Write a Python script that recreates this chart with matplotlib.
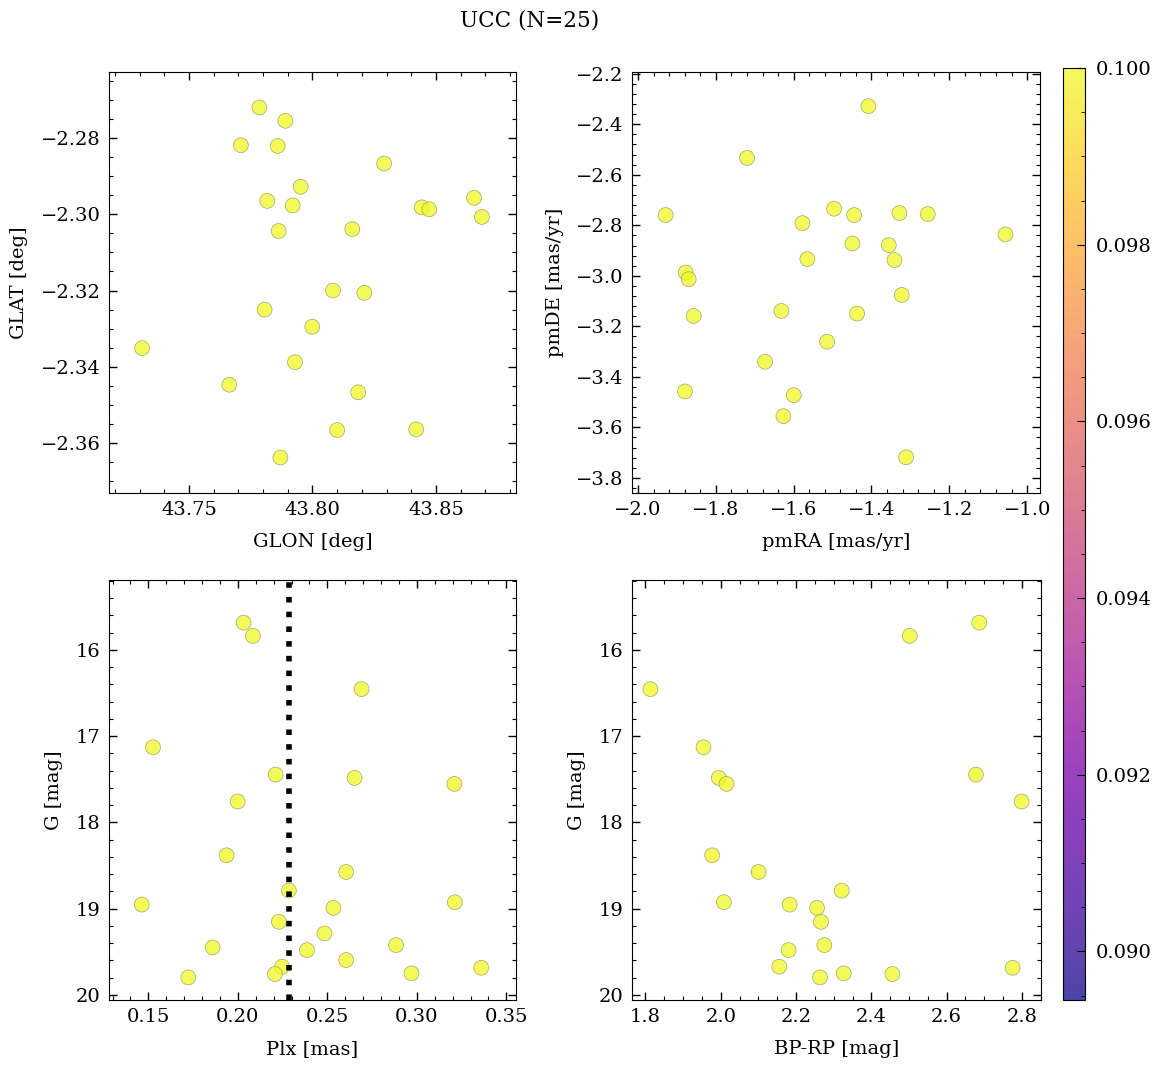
import numpy as np
import matplotlib
matplotlib.use('Agg')
import matplotlib.pyplot as plt
from matplotlib.ticker import AutoMinorLocator, FormatStrFormatter

plt.rcParams['font.family'] = ['DejaVu Serif']
plt.rcParams['font.size'] = 14
plt.rcParams['mathtext.fontset'] = 'dejavuserif'

# positions on the sky
glon = [43.7785, 43.789, 43.771, 43.7859, 43.829, 43.7952, 43.7817, 43.792, 43.8442,
        43.8473, 43.8654, 43.8686, 43.7863, 43.8161, 43.8083, 43.821, 43.7806, 43.7999,
        43.731, 43.7929, 43.7663, 43.8185, 43.81, 43.842, 43.787]
glat = [-2.2720, -2.2755, -2.2819, -2.2821, -2.2867, -2.2928, -2.2965, -2.2977, -2.2982,
        -2.2987, -2.2957, -2.3007, -2.3044, -2.3039, -2.3200, -2.3206, -2.3250, -2.3295,
        -2.3351, -2.3388, -2.3447, -2.3467, -2.3566, -2.3564, -2.3638]

# proper motions
pmra = [-1.4079, -1.7198, -1.9289, -1.4961, -1.4447, -1.3282, -1.2554, -1.5775, -1.0557,
        -1.449, -1.3556, -1.5647, -1.341, -1.8775, -1.8698, -1.3222, -1.8569, -1.6315,
        -1.437, -1.5141, -1.6735, -1.8792, -1.5998, -1.6264, -1.311]
pmde = [-2.3283, -2.5333, -2.7595, -2.7344, -2.7595, -2.7516, -2.7556, -2.7913, -2.8362,
        -2.872, -2.8786, -2.9341, -2.9381, -2.987, -3.0135, -3.0757, -3.159, -3.1392,
        -3.1497, -3.2608, -3.3402, -3.4579, -3.4725, -3.5558, -3.7185]

# photometry + parallax
gmag = [15.684, 15.838, 16.455, 17.129, 17.445, 17.484, 17.553, 17.757, 18.381, 18.574,
        18.79, 18.925, 18.952, 18.99, 19.152, 19.287, 19.422, 19.449, 19.48, 19.595,
        19.672, 19.684, 19.749, 19.757, 19.796]
plx = [0.2032, 0.2084, 0.2691, 0.1526, 0.2211, 0.2652, 0.321, 0.1999, 0.1937, 0.2605,
       0.2285, 0.3212, 0.1463, 0.2534, 0.2229, 0.2484, 0.2884, 0.1859, 0.2386, 0.2605,
       0.2247, 0.336, 0.297, 0.2207, 0.1723]
bp_rp = [2.6865, 2.5021, 1.8133, 1.9543, 2.6777, 1.995, 2.0154, 2.7991, 1.9773, 2.1005,
         2.3213, 2.0083, 2.183, 2.2557, 2.2663, np.nan, 2.2752, np.nan, 2.1803, np.nan,
         2.1555, 2.7752, 2.3266, 2.456, 2.2636]

probs = [0.1] * 25
vmin, vmax = 0.08945, 0.1

fig = plt.figure(figsize=(11.6, 10.68), dpi=100)
W, H = 1160, 1068

def box(x0, y0, x1, y1):
    return [x0 / W, 1 - y1 / H, (x1 - x0) / W, (y1 - y0) / H]

ax1 = fig.add_axes(box(109, 72, 516, 493))
ax2 = fig.add_axes(box(632, 72, 1040, 493))
ax3 = fig.add_axes(box(109, 580, 516, 1000))
ax4 = fig.add_axes(box(632, 580, 1041, 1000))
cax = fig.add_axes(box(1063, 68, 1085, 1000))

kw = dict(c=probs, cmap='plasma', vmin=vmin, vmax=vmax, s=115, alpha=0.75,
          edgecolors='#8a8a5a', linewidths=0.5)

ax1.scatter(glon, glat, **kw)
ax1.set_xlabel('GLON [deg]', labelpad=10)
ax1.set_ylabel('GLAT [deg]', labelpad=9)
ax1.set_xlim(43.7176, 43.8824)
ax1.set_ylim(-2.3731, -2.2627)
ax1.set_xticks([43.75, 43.80, 43.85])

ax2.scatter(pmra, pmde, **kw)
ax2.set_xlabel('pmRA [mas/yr]', labelpad=10)
ax2.set_ylabel('pmDE [mas/yr]', labelpad=9)
ax2.set_xlim(-2.0154, -0.967)
ax2.set_ylim(-3.86, -2.193)

ax3.scatter(plx, gmag, **kw)
ax3.axvline(np.median(plx), color='k', ls=':', lw=4)
ax3.set_xlabel('Plx [mas]', labelpad=10)
ax3.set_ylabel('G [mag]', labelpad=9)
ax3.set_xlim(0.128, 0.3554)
ax3.set_ylim(20.058, 15.19)

sc = ax4.scatter(bp_rp, gmag, **kw)
ax4.set_xlabel('BP-RP [mag]', labelpad=10)
ax4.set_ylabel('G [mag]', labelpad=9)
ax4.set_xlim(1.7645, 2.8505)
ax4.set_ylim(20.058, 15.19)

for ax in [ax1, ax2, ax3, ax4]:
    ax.xaxis.set_minor_locator(AutoMinorLocator(5))
    ax.yaxis.set_minor_locator(AutoMinorLocator(5))
    ax.tick_params(which='both', direction='in', top=True, right=True)
    ax.tick_params(which='major', length=6, width=1)
    ax.tick_params(which='minor', length=3, width=0.8)
    ax.tick_params(axis='both', labelsize=14, pad=6)
ax1.yaxis.set_minor_locator(AutoMinorLocator(4))
ax4.xaxis.set_minor_locator(AutoMinorLocator(4))

cb = fig.colorbar(sc, cax=cax)
cb.set_ticks([0.090, 0.092, 0.094, 0.096, 0.098, 0.100])
cb.ax.yaxis.set_major_formatter(FormatStrFormatter('%.3f'))
cb.ax.yaxis.set_minor_locator(AutoMinorLocator(4))
cb.ax.tick_params(which='both', direction='in', labelsize=14, pad=8)
cb.ax.tick_params(which='major', length=6)
cb.ax.tick_params(which='minor', length=3)

fig.suptitle('UCC (N=25)', x=530 / W, y=1 - 20 / H, va='center', fontsize=15.5)

plt.savefig('out.png', dpi=100)
